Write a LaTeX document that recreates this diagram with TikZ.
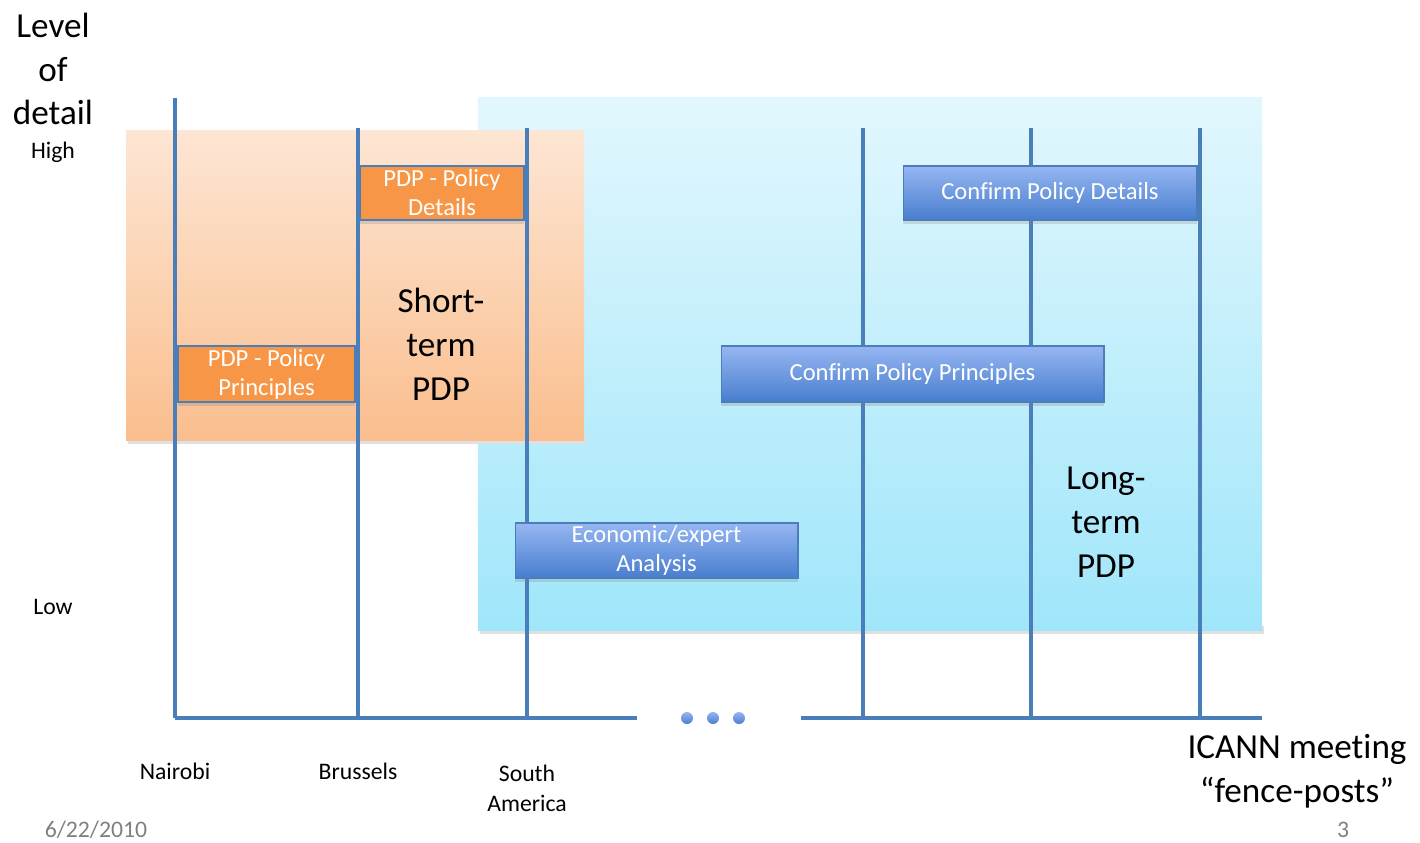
\documentclass[tikz,border=0pt]{standalone}
\usepackage{fontspec}
\setmainfont{Carlito}[Ligatures=CommonOff]
\usetikzlibrary{
    backgrounds,
    shadows
}

\definecolor{postblue}{RGB}{74,126,187}
\definecolor{boxorange}{RGB}{247,150,70}
\definecolor{shorttop}{RGB}{253,230,212}
\definecolor{shortbot}{RGB}{250,190,142}
\definecolor{longtop}{RGB}{226,247,253}
\definecolor{longbot}{RGB}{160,230,250}
\definecolor{tasktop}{RGB}{150,182,242}
\definecolor{taskbot}{RGB}{72,126,206}

\begin{document}
\begin{tikzpicture}[
    x=0.02cm, y=-0.02cm,
    post/.style={draw=postblue, line width=2pt},
    bigtext/.style={align=center, font=\fontsize{20}{25}\selectfont},
    smalltext/.style={align=center, font=\fontsize{13.5}{17}\selectfont},
    orangetask/.style={
      fill=boxorange,
      draw=postblue,
      line width=0.6pt,
      text=white,
      align=center,
      inner sep=0pt,
      font=\fontsize{14}{16.5}\selectfont,
      drop shadow={shadow xshift=0pt, shadow yshift=-2pt, opacity=.25}
    },
    bluetask/.style={
      top color=tasktop,
      bottom color=taskbot,
      draw=postblue,
      line width=0.6pt,
      text=white,
      align=center,
      inner sep=0pt,
      font=\fontsize{14}{16.5}\selectfont,
      drop shadow={shadow xshift=0pt, shadow yshift=-2pt, opacity=.25}
    }
  ]

  \useasboundingbox (0,0) rectangle (1420,842);

  % backgrounds {{{
  \fill[black!12] (480,626) rectangle (1264,634);
  \fill[top color=longtop, bottom color=longbot] (478,97) rectangle (1262,630);
  \fill[black!12] (128,436) rectangle (586,444);
  \fill[top color=shorttop, bottom color=shortbot] (126,130) rectangle (584,440);
  % }}}

  % fence-posts and axis {{{
  \draw[post] (175,98) -- (175,718);
  \foreach \x in {358,527,863,1031,1200}
    \draw[post] (\x,128) -- (\x,718);
  \draw[post] (175,718) -- (637,718);
  \draw[post] (801,718) -- (1262,718);
  \foreach \x in {687,713,739}
    \shade[top color=tasktop, bottom color=taskbot] (\x,718) circle (0.12cm);
  % }}}

  % tasks {{{
  \node[orangetask, minimum width=3.28cm, minimum height=1.08cm]
    (pdpdetails) at (442,193) {PDP - Policy\\Details};
  \node[orangetask, minimum width=3.54cm, minimum height=1.12cm]
    (pdpprinciples) at (266.5,374) {PDP - Policy\\Principles};
  \node[bluetask, minimum width=5.88cm, minimum height=1.08cm]
    (confirmdetails) at (1050,193) {Confirm Policy Details};
  \node[bluetask, minimum width=7.66cm, minimum height=1.12cm]
    (confirmprinciples) at (912.5,374) {Confirm Policy Principles};
  \node[bluetask, minimum width=5.66cm, minimum height=1.1cm]
    (economic) at (656.5,550.5) {Economic/expert\\Analysis};
  % }}}

  % labels {{{
  \node[bigtext] (level) at (53,69) {Level\\of\\detail};
  \node[smalltext] (high) at (53,152) {High};
  \node[smalltext] (low) at (53,607) {Low};
  \node[bigtext] (shortterm) at (441,344) {Short-\\term\\PDP};
  \node[bigtext] (longterm) at (1106,522) {Long-\\term\\PDP};
  \node[smalltext] (nairobi) at (175,771) {Nairobi};
  \node[smalltext] (brussels) at (358,771) {Brussels};
  \node[smalltext] (southamerica) at (527,788) {South\\America};
  \node[bigtext] (fenceposts) at (1297,771) {ICANN meeting\\“fence-posts”};
  \node[smalltext, text=black!50] (date) at (96,830) {6/22/2010};
  \node[smalltext, text=black!50] (page) at (1343,830) {3};
  % }}}

\end{tikzpicture}
\end{document}
